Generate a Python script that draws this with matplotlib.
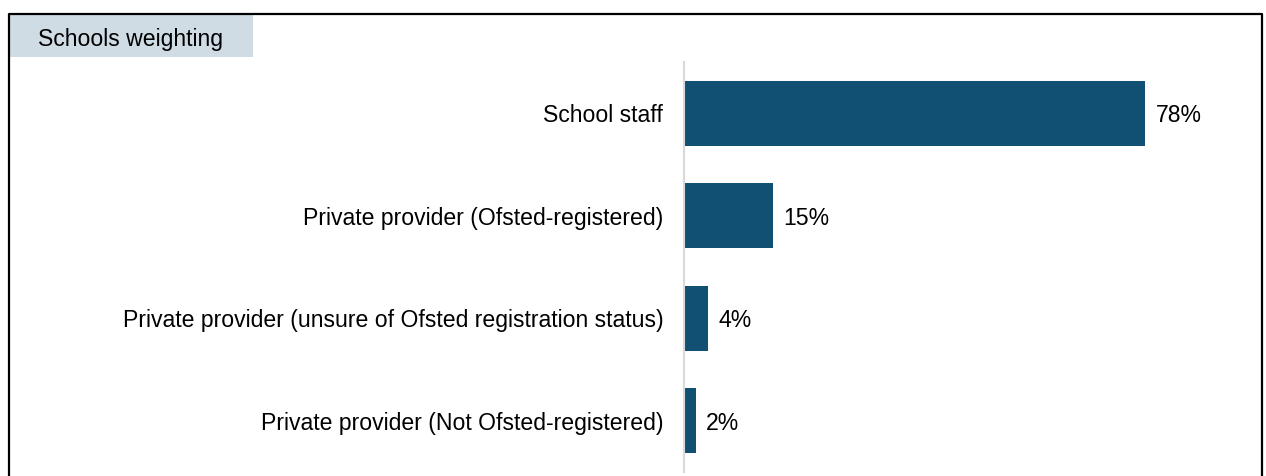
import matplotlib
matplotlib.use("Agg")
import matplotlib.pyplot as plt
from matplotlib.lines import Line2D
from matplotlib.patches import Rectangle

plt.rcParams['font.family'] = ['Liberation Sans', 'DejaVu Sans']

categories = ["School staff",
              "Private provider (Ofsted-registered)",
              "Private provider (unsure of Ofsted registration status)",
              "Private provider (Not Ofsted-registered)"]
values = [78, 15, 4, 2]
title = "Schools weighting"

W, H = 1266, 476
fs = 16.6
fig = plt.figure(figsize=(W / 100, H / 100), dpi=100)

# axes in pixel terms: left 684, right 1262, top 62, bottom 472
ax = fig.add_axes([684 / W, 1 - 472 / H, (1262 - 684) / W, (472 - 62) / H])
ypos = range(len(values))
ax.barh(ypos, values, height=0.63, color="#114f73")
ax.set_ylim(3.5, -0.5)
ax.set_xlim(0, 97.8)
ax.set_yticks(list(ypos))
ax.set_yticklabels(categories, fontsize=fs)
ax.tick_params(axis='y', length=0, pad=15)
ax.set_xticks([])
for s in ["top", "right", "bottom"]:
    ax.spines[s].set_visible(False)
ax.spines["left"].set_color("#d9d9d9")
ax.spines["left"].set_linewidth(1.5)

for y, v in zip(ypos, values):
    ax.annotate(f"{v}%", (v, y), xytext=(7.5, 0), textcoords="offset points",
                va="center_baseline", ha="left", fontsize=fs)

# frame and header box
fig.patches.append(Rectangle((10 / W, 1 - 57 / H), (253 - 10) / W, (57 - 15) / H,
                             transform=fig.transFigure, facecolor="#cfdce4",
                             edgecolor="none", zorder=1))
fig.text(38 / W, 1 - 37 / H, title, fontsize=fs, va="center_baseline", ha="left")
fig.lines.append(Line2D([9 / W, 9 / W, 1262 / W, 1262 / W],
                        [0, 1 - 14 / H, 1 - 14 / H, 0],
                        transform=fig.transFigure, color="black", lw=1.6))

fig.savefig("out.png", dpi=100)
